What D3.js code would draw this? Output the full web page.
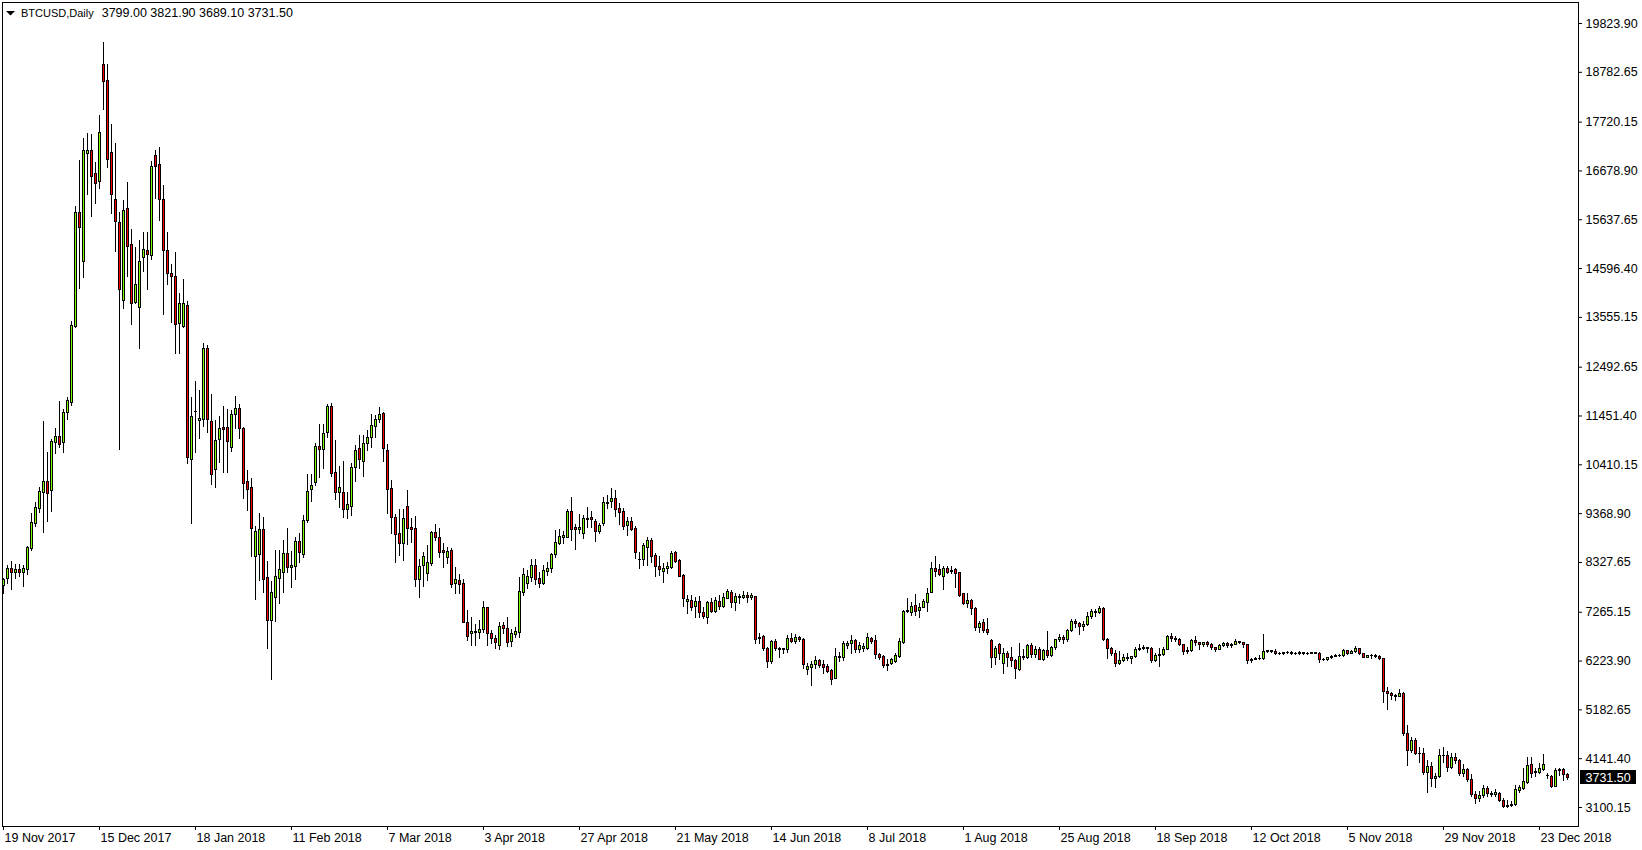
<!DOCTYPE html>
<html><head><meta charset="utf-8">
<script src="https://cdn.jsdelivr.net/npm/d3@7"></script>
<style>
html,body{margin:0;padding:0;background:#fff;}
svg{display:block;}
</style></head><body>
<svg id="chart" width="1642" height="850"></svg>
<script>
// ---------- DATA ----------
const symbol = "BTCUSD,Daily";
const lastBar = [3799.00, 3821.90, 3689.10, 3731.50]; // O H L C of the last bar
const dateLabels = ["19 Nov 2017","15 Dec 2017","18 Jan 2018","11 Feb 2018","7 Mar 2018","3 Apr 2018","27 Apr 2018","21 May 2018","14 Jun 2018","8 Jul 2018","1 Aug 2018","25 Aug 2018","18 Sep 2018","12 Oct 2018","5 Nov 2018","29 Nov 2018","23 Dec 2018"];
const dateTickBars = [0,24,48,72,96,120,144,168,192,216,240,264,288,312,336,360,384];
const priceTicks = [3100.15,4141.40,5182.65,6223.90,7265.15,8327.65,9368.90,10410.15,11451.40,12492.65,13555.15,14596.40,15637.65,16678.90,17720.15,18782.65,19823.90];

const open = [
7830,7979,8192,8120,8177,8120,8184,8631,9165,9485,
9826,10054,9856,10892,11014,10880,11520,11746,13367,15786,
14754,17057,17108,16618,16460,18949,18602,17066,16063,15579,
13909,15871,15103,13879,13772,14839,14975,14881,17002,16810,
16063,14975,14498,14421,13418,13361,13802,10517,11537,11355,
11370,12885,11334,10304,10944,11200,11200,10786,11477,11605,
11178,10054,9920,8461,8491,9024,8000,7083,7573,7992,
8107,8512,8213,8241,8768,8504,9216,9877,10026,10801,
10730,11106,11654,10240,9826,9813,9451,9521,10347,10752,
10481,10858,10986,11234,11370,11498,10716,9899,9280,8939,
8738,9527,9073,9045,7970,8256,8085,8312,8960,8853,
8576,8440,8582,7872,7943,7872,7040,6806,6834,6840,
6891,7360,6806,6712,6556,6983,6912,6641,6791,6840,
7693,7872,8013,8262,7979,7872,8141,8192,8491,8738,
8866,8866,9414,9067,9037,8939,9244,9280,9201,8994,
9152,9613,9634,9685,9472,9414,9122,9201,9045,8397,
8384,8653,8796,8476,8241,8141,8192,8213,8533,8369,
8049,7501,7516,7394,7494,7253,7147,7467,7288,7494,
7394,7565,7680,7480,7580,7586,7622,7586,7601,6699,
6748,6486,6221,6641,6464,6486,6464,6699,6648,6720,
6684,6038,6093,6151,6236,6151,6108,6023,5858,6307,
6307,6556,6592,6663,6464,6486,6486,6712,6663,6358,
6321,6130,6166,6221,6328,6620,7281,7266,7409,7303,
7373,7480,7693,8192,8171,8034,8192,8150,8171,8107,
7659,7445,7516,7339,6946,7040,6897,6663,6294,6577,
6166,6379,6294,6236,6044,6328,6300,6560,6370,6460,
6260,6450,6350,6510,6680,6720,6680,6880,7070,7020,
6960,7010,7180,7280,7250,7350,6680,6500,6390,6180,
6230,6310,6270,6320,6470,6490,6510,6490,6230,6340,
6370,6470,6750,6700,6690,6570,6420,6440,6670,6620,
6580,6610,6570,6510,6470,6560,6600,6550,6580,6640,
6620,6570,6230,6260,6270,6280,6420,6440,6430,6390,
6380,6400,6410,6390,6380,6400,6380,6390,6400,6390,
6250,6260,6290,6330,6350,6340,6440,6390,6420,6490,
6380,6310,6340,6350,6330,6270,5580,5530,5480,5470,
5540,4670,4310,4520,4250,4260,3840,3980,3720,3770,
4200,4220,3950,4160,4100,3820,3910,3700,3380,3300,
3350,3500,3400,3380,3405,3250,3150,3140,3164,3463,
3499,3640,4011,3840,3853,3911,3783,3768,3555,3910,
3911,3799.00];

const high = [
7985,8262,8348,8284,8284,8262,8668,9365,9613,9933,
11334,10679,10950,11178,11761,11590,11840,13467,15920,16902,
17371,17477,17462,16859,17861,19419,18956,17670,17264,15792,
16042,16426,15430,15039,15195,15366,15366,16880,17115,17179,
16368,15366,14677,14933,14058,14363,13894,11846,12187,11995,
13004,12955,11910,11355,11441,11654,11590,11569,11867,11690,
11213,10289,10112,9094,9365,9293,8348,7921,8582,8582,
8796,9058,8561,8853,8951,9329,10197,10197,10871,11270,
11270,11697,11725,10929,10374,10481,9826,10432,10822,11036,
11036,11142,11484,11462,11626,11520,10844,10076,9350,9451,
9457,9862,9259,9308,8384,8546,8689,8994,9131,9045,
8725,8640,8618,8213,8064,7957,7303,7147,6998,7089,
7494,7373,6876,6769,7053,7053,7147,6891,6946,8013,
8205,8156,8384,8390,8120,8262,8333,8525,9009,9030,
8988,9451,9719,9137,9344,9329,9506,9414,9237,9165,
9719,9756,9899,9862,9579,9472,9293,9293,9094,8546,
8725,8866,8832,8512,8454,8299,8333,8561,8567,8384,
8071,7622,7622,7586,7607,7373,7494,7552,7586,7622,
7659,7750,7729,7659,7637,7708,7680,7659,7607,6818,
6769,6520,6663,6678,6520,6499,6769,6818,6784,6748,
6699,6166,6221,6328,6257,6236,6144,6038,6499,6400,
6648,6648,6769,6678,6627,6592,6818,6733,6769,6392,
6343,6251,6285,6379,6699,7303,7552,7480,7644,7458,
7537,7765,8333,8454,8284,8241,8241,8248,8192,8120,
7672,7659,7531,7360,7068,7111,7126,6678,6541,6605,
6486,6428,6507,6251,6592,6470,6580,6600,6530,6520,
6480,6850,6540,6690,6780,6760,6890,7110,7120,7040,
7060,7250,7320,7320,7380,7370,6700,6520,6450,6420,
6360,6380,6330,6510,6570,6560,6520,6510,6380,6500,
6510,6770,6820,6740,6700,6580,6520,6680,6740,6620,
6630,6640,6600,6520,6580,6630,6610,6600,6680,6650,
6630,6580,6280,6290,6340,6800,6450,6450,6460,6410,
6410,6430,6420,6400,6430,6410,6400,6410,6410,6400,
6280,6310,6340,6370,6360,6460,6450,6440,6530,6500,
6390,6350,6360,6370,6340,6280,5650,5560,5510,5620,
5550,4850,4600,4580,4380,4360,4100,4050,3830,4330,
4380,4290,4260,4260,4120,4020,3930,3800,3440,3450,
3580,3540,3440,3480,3420,3300,3250,3230,3570,3570,
3926,4160,4173,3926,4032,4231,3832,3783,3926,3926,
3926,3821.90];

const low = [
7660,7885,7757,7992,8028,7821,8077,8589,9094,9399,
8966,9201,9421,10658,10786,10679,11383,11675,13333,14178,
14412,16176,15713,15991,16311,17983,16759,15777,14967,10743,
13751,14427,13410,13858,12898,14540,14156,14783,16097,15622,
13623,14250,13452,12778,12778,13333,10432,9165,10679,10978,
11234,11093,9984,9933,10466,10253,10253,10694,11191,10978,
9685,9436,8461,7537,7943,7693,6486,5824,7074,7458,
7693,8107,7800,7957,8333,8440,9186,9634,9969,10146,
10325,10999,10161,9664,9493,9293,9259,9329,10061,10325,
10167,10716,10786,10999,11319,10487,9378,8951,8333,8476,
8369,8704,8760,7821,7586,7821,7943,8262,8796,8440,
8226,8312,7800,7672,7672,7040,6663,6556,6556,6699,
6840,6556,6599,6492,6471,6806,6535,6535,6720,6720,
7622,7765,7921,7857,7787,7851,8049,8107,8440,8704,
8725,8853,8796,8604,8939,8832,9080,9067,8781,8939,
9122,9472,9506,9314,9137,9030,8902,9009,8405,8192,
8262,8262,8333,8034,8049,7893,8085,8192,8333,8028,
7394,7232,7303,7160,7160,7126,7019,7266,7266,7318,
7373,7552,7373,7303,7445,7552,7480,7531,6605,6592,
6449,6080,6166,6449,6294,6379,6414,6627,6605,6648,
6059,5937,5703,6059,6080,5965,5974,5730,5845,6215,
6236,6486,6379,6414,6414,6435,6471,6605,6285,6251,
6093,6023,6144,6200,6307,6605,7266,7196,7196,7160,
7360,7288,7680,8028,8043,7751,8085,8085,7800,7601,
7424,7373,7217,6876,6840,6840,6791,6093,6144,6251,
5952,6114,6114,5858,6023,6250,6280,6300,6300,6250,
6240,6300,6330,6460,6650,6590,6640,6860,6930,6790,
6880,6990,7130,7180,7230,6660,6280,6340,6110,6140,
6210,6240,6180,6310,6440,6470,6410,6200,6220,6100,
6350,6460,6650,6650,6550,6360,6380,6430,6560,6480,
6540,6530,6480,6420,6460,6530,6520,6520,6570,6590,
6510,6180,6200,6250,6250,6260,6400,6410,6360,6360,
6370,6390,6370,6360,6370,6360,6360,6380,6380,6200,
6230,6240,6270,6320,6320,6330,6370,6380,6410,6360,
6290,6300,6280,6300,6250,5330,5200,5400,5380,5460,
4630,4000,4270,4240,4050,3800,3430,3550,3520,3740,
4060,3870,3940,4030,3780,3760,3650,3340,3190,3230,
3320,3340,3330,3340,3230,3107,3107,3128,3143,3427,
3484,3619,3746,3768,3819,3889,3712,3533,3555,3783,
3676,3689.10];

const close = [
7970,8192,8120,8177,8120,8192,8653,9173,9500,9841,
10054,9805,10907,11014,10837,11520,11776,13382,15786,15479,
17108,17115,16567,16404,17492,18593,16917,16170,15594,14143,
15829,15073,13858,14250,14741,15009,14890,16774,16774,16063,
14988,14485,14421,13397,13845,13845,10573,11441,11547,11404,
12885,11370,10210,10929,11178,11164,10914,11484,11605,11191,
10005,9877,9045,8988,9024,7964,7083,7680,8034,8171,
8512,8213,8262,8768,8533,9222,9841,9962,10801,10737,
11085,11654,10219,9826,9920,9451,9557,10347,10716,10517,
10858,10999,11249,11370,11484,10752,9877,9280,8917,8738,
9259,9058,9037,7957,8248,8461,8320,8960,8866,8546,
8546,8555,7851,7957,7851,7053,6754,6855,6862,6897,
7373,6806,6712,6620,6968,6912,6620,6806,6855,7708,
8071,8028,8262,7957,7872,8156,8192,8497,8747,8881,
8902,9421,9024,9037,9067,9259,9271,9237,8988,9116,
9600,9579,9685,9457,9399,9101,9201,9037,8546,8384,
8689,8796,8461,8248,8171,8205,8241,8525,8354,8034,
7552,7531,7373,7494,7266,7181,7467,7288,7516,7394,
7586,7708,7480,7607,7601,7622,7586,7616,6678,6720,
6486,6221,6641,6499,6486,6464,6699,6648,6720,6678,
6151,6108,6151,6236,6130,6093,6008,5830,6321,6328,
6592,6605,6663,6464,6556,6541,6720,6648,6358,6307,
6130,6151,6257,6343,6641,7281,7296,7388,7288,7373,
7494,7659,8192,8141,8071,8192,8120,8135,8099,7622,
7445,7516,7339,6946,7019,6876,6840,6294,6499,6379,
6379,6307,6236,6059,6328,6300,6560,6370,6460,6260,
6450,6350,6510,6680,6720,6680,6880,7070,7020,6960,
7010,7180,7280,7250,7350,6680,6500,6390,6180,6230,
6310,6270,6320,6470,6490,6510,6490,6230,6340,6370,
6470,6750,6700,6690,6570,6420,6440,6670,6620,6580,
6610,6570,6510,6470,6560,6600,6550,6580,6640,6620,
6570,6230,6260,6270,6280,6420,6440,6430,6390,6380,
6400,6410,6390,6380,6400,6380,6390,6400,6390,6250,
6260,6290,6330,6350,6340,6440,6390,6420,6490,6380,
6310,6340,6350,6330,6270,5580,5530,5480,5470,5540,
4670,4310,4520,4250,4260,3840,3980,3720,3770,4200,
4220,3950,4160,4100,3820,3910,3700,3380,3300,3350,
3500,3400,3380,3410,3250,3122,3130,3165,3478,3533,
3655,3996,3832,3875,3926,4011,3790,3555,3889,3880,
3797,3731.50];

// ---------- STYLE ----------
const bullColor = "#7fff00";
const bearColor = "#ff0000";
const FONT = "'Liberation Sans', Arial, sans-serif";

// ---------- CHART ----------
const N = open.length;
const svg = d3.select("#chart");
const plotLeft = 2, plotTop = 2, plotRight = 1578, plotBottom = 826;

const x = d3.scaleLinear().domain([0, N - 1]).range([3, 3 + 4 * (N - 1)]);
const y = d3.scaleLinear().domain([3100.15, 19823.90]).range([807, 23]);

svg.append("rect").attr("width", 1642).attr("height", 850).attr("fill", "#fff");

// frame
svg.append("rect")
  .attr("x", plotLeft + 0.5).attr("y", plotTop + 0.5)
  .attr("width", plotRight - plotLeft).attr("height", plotBottom - plotTop)
  .attr("fill", "none").attr("stroke", "#000").attr("stroke-width", 1);

const bars = d3.range(N).map(i => ({ i, o: open[i], h: high[i], l: low[i], c: close[i] }));
const top_ = d => Math.round(y(Math.max(d.o, d.c)));
const bot_ = d => Math.round(y(Math.min(d.o, d.c)));

const g = svg.append("g");
g.selectAll("rect.wick").data(bars).join("rect").attr("class", "wick")
  .attr("x", d => x(d.i)).attr("width", 1)
  .attr("y", d => Math.round(y(d.h)))
  .attr("height", d => Math.max(1, Math.round(y(d.l)) - Math.round(y(d.h)) + 1))
  .attr("fill", "#000");

g.selectAll("rect.body").data(bars).join("rect").attr("class", "body")
  .attr("x", d => x(d.i) - 1).attr("width", 3)
  .attr("y", d => top_(d))
  .attr("height", d => bot_(d) - top_(d) + 1)
  .attr("fill", "#000");

g.selectAll("rect.fillb").data(bars.filter(d => bot_(d) - top_(d) >= 2)).join("rect").attr("class", "fillb")
  .attr("x", d => x(d.i)).attr("width", 1)
  .attr("y", d => top_(d) + 1)
  .attr("height", d => bot_(d) - top_(d) - 1)
  .attr("fill", d => d.c >= d.o ? bullColor : bearColor);

// price axis
const yAxis = d3.axisRight(y).tickValues(priceTicks).tickSize(4).tickFormat(d3.format(".2f"));
const ya = svg.append("g").attr("transform", `translate(${plotRight},0)`).call(yAxis);
ya.select(".domain").remove();
ya.attr("font-family", FONT).attr("font-size", 12.5).attr("color", "#000");
ya.selectAll("text").attr("x", 7.5).attr("fill", "#000");

// time axis
const xAxis = d3.axisBottom(x).tickValues(dateTickBars).tickSize(4)
  .tickFormat(d => dateLabels[dateTickBars.indexOf(d)]);
const xa = svg.append("g").attr("transform", `translate(0,${plotBottom})`).call(xAxis);
xa.select(".domain").remove();
xa.attr("font-family", FONT).attr("font-size", 12.5).attr("color", "#000");
xa.selectAll("text").attr("text-anchor", "start").attr("x", 1).attr("y", 16.3).attr("dy", null).attr("fill", "#000");

// header
svg.append("path").attr("d", "M6,11 L15,11 L10.5,15.5 Z").attr("fill", "#000");
svg.append("text").attr("x", 21).attr("y", 17.3)
  .attr("font-family", FONT).attr("font-size", 11).attr("fill", "#000").text(symbol);
svg.append("text").attr("x", 101.7).attr("y", 17.3)
  .attr("font-family", FONT).attr("font-size", 12.5).attr("fill", "#000")
  .text(lastBar.map(d3.format(".2f")).join(" "));

// current price label
const yc = y(lastBar[3]);
svg.append("rect").attr("x", 1580).attr("y", Math.round(yc) - 7).attr("width", 56).attr("height", 14).attr("fill", "#000");
svg.append("text").attr("x", 1585.5).attr("y", yc + 4.5)
  .attr("font-family", FONT).attr("font-size", 12.5).attr("fill", "#fff")
  .text(d3.format(".2f")(lastBar[3]));
</script>
</body></html>
